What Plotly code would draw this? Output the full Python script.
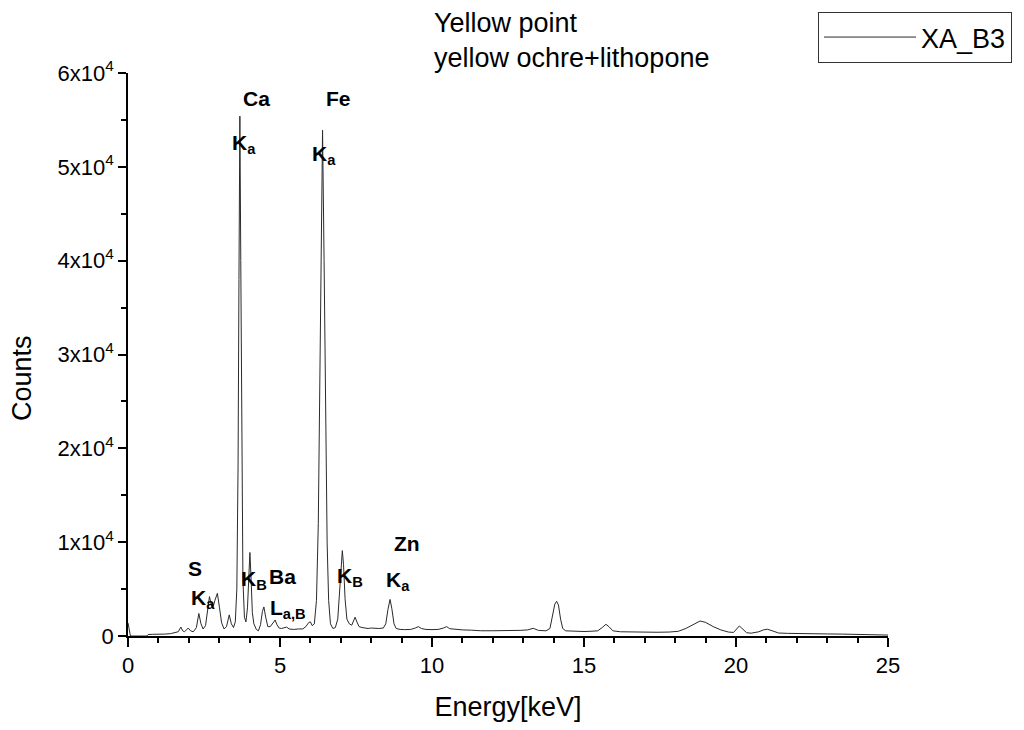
import plotly.graph_objects as go

# Spectrum (energy in keV, counts)
energy = [0.00, 0.04, 0.08, 0.62, 0.66, 0.80, 1.00, 1.20, 1.40, 1.55, 1.65, 1.74, 1.80, 1.86,
          1.98, 2.06, 2.15, 2.25, 2.33, 2.40, 2.47, 2.55, 2.62, 2.68, 2.74, 2.79, 2.86, 2.94,
          3.01, 3.08, 3.16, 3.24, 3.33, 3.40, 3.47, 3.53, 3.58, 3.62, 3.65, 3.68, 3.71, 3.74,
          3.78, 3.83, 3.88, 3.93, 3.97, 4.01, 4.05, 4.09, 4.14, 4.22, 4.29, 4.36, 4.42, 4.47,
          4.53, 4.60, 4.68, 4.76, 4.84, 4.90, 4.97, 5.05, 5.15, 5.22, 5.30, 5.45, 5.60, 5.75,
          5.85, 5.95, 6.00, 6.06, 6.13, 6.20, 6.26, 6.31, 6.35, 6.40, 6.45, 6.50, 6.55, 6.60,
          6.66, 6.74, 6.82, 6.90, 6.96, 7.01, 7.05, 7.09, 7.14, 7.20, 7.28, 7.36, 7.42, 7.47,
          7.53, 7.60, 7.70, 7.80, 7.90, 8.00, 8.10, 8.25, 8.40, 8.48, 8.55, 8.62, 8.68, 8.75,
          8.82, 8.95, 9.10, 9.30, 9.45, 9.55, 9.65, 9.80, 10.00, 10.20, 10.38, 10.48, 10.58,
          10.80, 11.00, 11.30, 11.60, 12.00, 12.50, 12.90, 13.15, 13.33, 13.50, 13.75, 13.88,
          13.96, 14.04, 14.10, 14.16, 14.23, 14.30, 14.40, 14.60, 14.85, 15.00, 15.20, 15.45,
          15.60, 15.72, 15.82, 15.95, 16.20, 16.60, 17.00, 17.40, 17.80, 18.10, 18.35, 18.60,
          18.82, 19.00, 19.25, 19.50, 19.75, 19.92, 20.02, 20.11, 20.20, 20.35, 20.50, 20.75,
          20.90, 21.03, 21.15, 21.40, 21.70, 22.00, 22.50, 23.00, 23.50, 24.00, 24.50, 24.90,
          25.00]
counts = [1400, 600, 0, 0, 150, 180, 170, 200, 250, 330, 450, 950, 550, 450,
          850, 550, 450, 900, 2400, 1300, 750, 1100, 3000, 4200, 3300, 3000, 3800, 4550,
          3000, 1400, 750, 1000, 2250, 1300, 900, 1500, 5000, 18000, 38000, 55400, 40000, 20000,
          6000, 2000, 1500, 3000, 7000, 8900, 6000, 2500, 1300, 700, 550, 1200, 2600, 3100,
          2000, 1000, 1000, 1400, 1700, 1200, 850, 800, 900, 950, 750, 700, 750, 750,
          1000, 1450, 1500, 1100, 1300, 3800, 12000, 25000, 40000, 53900, 40000, 22000, 10000, 3800,
          1300, 800, 900, 1800, 5000, 8000, 9100, 7600, 4000, 1800, 1300, 1150, 1700, 2000,
          1500, 1000, 900, 850, 800, 850, 820, 800, 850, 1300, 2800, 3900, 2900, 1300,
          800, 700, 680, 700, 850, 1000, 800, 700, 680, 700, 850, 1000, 780,
          700, 650, 620, 560, 560, 550, 600, 650, 820, 600, 550, 800,
          2000, 3400, 3700, 3300, 1800, 800, 550, 500, 500, 480, 500, 550,
          900, 1250, 1000, 550, 450, 420, 420, 400, 420, 500, 800, 1250,
          1600, 1450, 1000, 650, 420, 380, 750, 1070, 800, 350, 300, 450,
          650, 720, 600, 320, 280, 250, 230, 220, 200, 180, 170, 150,
          100]

series_name = "XA_B3"
title_lines = ["Yellow point", "yellow ochre+lithopone"]
x_title = "Energy[keV]"
y_title = "Counts"
y_tickvals = [0, 10000, 20000, 30000, 40000, 50000, 60000]
y_ticktext = ["0", "1x10<sup>4</sup>", "2x10<sup>4</sup>", "3x10<sup>4</sup>",
              "4x10<sup>4</sup>", "5x10<sup>4</sup>", "6x10<sup>4</sup>"]
x_tickvals = [0, 5, 10, 15, 20, 25]

# Peak labels: (energy, counts, text, xanchor)
peak_labels = [
    (4.23, 57330, "<b>Ca</b>", "center"),
    (3.36, 52400, "<b>K<sub>a</sub></b>", "left"),
    (6.94, 57330, "<b>Fe</b>", "center"),
    (6.00, 51300, "<b>K<sub>a</sub></b>", "left"),
    (2.20, 7170, "<b>S</b>", "center"),
    (2.00, 3900, "<b>K<sub>a</sub></b>", "left"),
    (3.65, 6000, "<b>K<sub>B</sub></b>", "left"),
    (5.08, 6310, "<b>Ba</b>", "center"),
    (4.60, 2900, "<b>L<sub>a,B</sub></b>", "left"),
    (6.81, 6310, "<b>K<sub>B</sub></b>", "left"),
    (9.17, 9840, "<b>Zn</b>", "center"),
    (8.42, 5900, "<b>K<sub>a</sub></b>", "left"),
]

FONT = "Liberation Sans, Arial, sans-serif"

fig = go.Figure()
fig.add_trace(go.Scatter(x=energy, y=counts, mode="lines", name=series_name,
                         line=dict(color="#2a2a2a", width=1), showlegend=True))

for ex, cy, txt, xa in peak_labels:
    fig.add_annotation(x=ex, y=cy, xref="x", yref="y", text=txt, showarrow=False,
                       xanchor=xa, yanchor="middle",
                       font=dict(family=FONT, size=21, color="black"))

# Title lines
fig.add_annotation(x=(432 - 128) / 760, y=(636 - 23) / 563, xref="paper", yref="paper",
                   text=title_lines[0], showarrow=False, xanchor="left", yanchor="middle",
                   font=dict(family=FONT, size=27, color="black"))
fig.add_annotation(x=(432 - 128) / 760, y=(636 - 58) / 563, xref="paper", yref="paper",
                   text=title_lines[1], showarrow=False, xanchor="left", yanchor="middle",
                   font=dict(family=FONT, size=27, color="black"))
# Y axis title
fig.add_annotation(x=(22 - 128) / 760, y=(636 - 378) / 563, xref="paper", yref="paper",
                   text=y_title, showarrow=False, textangle=-90, xanchor="center",
                   yanchor="middle", font=dict(family=FONT, size=27, color="black"))

fig.update_layout(
    width=1024, height=730,
    margin=dict(l=128, r=136, t=73, b=94),
    paper_bgcolor="white", plot_bgcolor="white",
    font=dict(family=FONT, color="black"),
    showlegend=True,
    legend=dict(x=(818 - 128) / 760, y=(636 - 12) / 563, xanchor="left", yanchor="top",
                bordercolor="#333333", borderwidth=1, bgcolor="white",
                font=dict(family=FONT, size=27, color="black"), itemwidth=92),
    xaxis=dict(range=[0, 25], tickvals=x_tickvals, showline=True, linecolor="black",
               linewidth=1.5, ticks="outside", ticklen=9, tickwidth=1.5, tickcolor="black",
               showgrid=False, zeroline=False, tickfont=dict(size=22),
               minor=dict(tickmode="linear", tick0=0, dtick=1, ticks="outside", ticklen=5,
                          tickwidth=1.5, tickcolor="black", showgrid=False),
               title=dict(text=x_title, font=dict(size=27), standoff=20)),
    yaxis=dict(range=[0, 60000], tickmode="array", tickvals=y_tickvals, ticktext=y_ticktext,
               showline=True, linecolor="black", linewidth=1.5, ticks="outside", ticklen=8,
               tickwidth=1.5, tickcolor="black", showgrid=False, zeroline=False,
               tickfont=dict(size=22),
               minor=dict(tickmode="linear", tick0=0, dtick=5000, ticks="outside", ticklen=5,
                          tickwidth=1.5, tickcolor="black", showgrid=False)),
)

fig.write_html("out.html")
